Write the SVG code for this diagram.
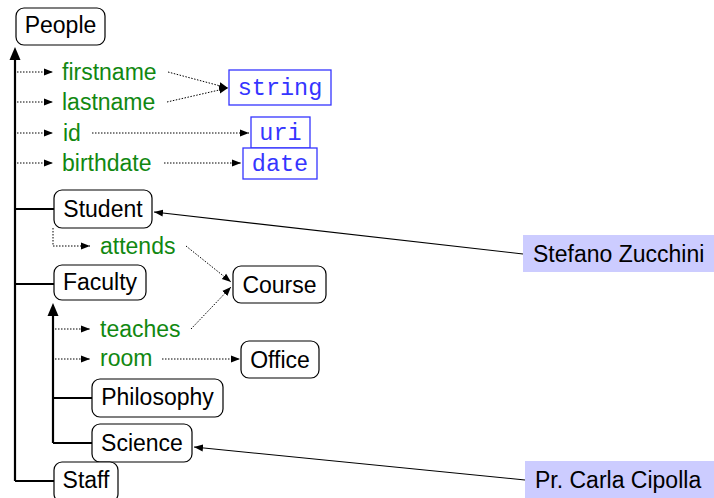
<svg xmlns="http://www.w3.org/2000/svg" width="714" height="498" viewBox="0 0 714 498">
<style>
.box{fill:#fff;stroke:#000;stroke-width:1.2}
.lbl{font-family:"Liberation Sans",Arial,sans-serif;font-size:23px;fill:#000}
.attr{font-family:"Liberation Sans",Arial,sans-serif;font-size:23px;fill:#118811}
.tbox{fill:#fff;stroke:#3535ff;stroke-width:1.3}
.mono{font-family:"Liberation Mono","Courier New",monospace;font-size:23.5px;fill:#3535ff}
.note{fill:#ccccff}
.tree{fill:none;stroke:#000;stroke-width:2.2}
.dot{fill:none;stroke:#000;stroke-width:1;stroke-dasharray:1.5 1.5}
.thin{fill:none;stroke:#000;stroke-width:1.1}
</style>
<defs>
<marker id="ad" markerUnits="userSpaceOnUse" markerWidth="10" markerHeight="8" refX="9" refY="4" orient="auto"><path d="M0,0.5 L9,4 L0,7.5 z" fill="#000"/></marker>
</defs>
<g id="connectors">
<path class="tree" d="M15,481 L15,58"/>
<path d="M15,47 L9.5,60 L20.5,60 z" fill="#000"/>
<path class="tree" d="M15,481 L54,481 M15,284 L54,284 M15,209 L54,209"/>
<path class="tree" d="M53,443 L53,314"/>
<path d="M53,303 L47.5,316 L58.5,316 z" fill="#000"/>
<path class="tree" d="M53,443 L92,443 M53,398 L92,398"/>
<path class="dot" d="M17,72 L53,72" marker-end="url(#ad)"/>
<path class="dot" d="M17,102 L53,102" marker-end="url(#ad)"/>
<path class="dot" d="M17,133 L53,133" marker-end="url(#ad)"/>
<path class="dot" d="M17,163 L53,163" marker-end="url(#ad)"/>
<path class="dot" d="M168,72 L228,88" marker-end="url(#ad)"/>
<path class="dot" d="M167,102 L228,88" marker-end="url(#ad)"/>
<path class="dot" d="M92,133 L249,133" marker-end="url(#ad)"/>
<path class="dot" d="M164,163 L241,163" marker-end="url(#ad)"/>
<path class="dot" d="M53,228 L53,246 L90,246" marker-end="url(#ad)"/>
<path class="dot" d="M186,246 L231,282" marker-end="url(#ad)"/>
<path class="dot" d="M55,329 L90,329" marker-end="url(#ad)"/>
<path class="dot" d="M191,329 L231,287" marker-end="url(#ad)"/>
<path class="dot" d="M55,359 L90,359" marker-end="url(#ad)"/>
<path class="dot" d="M162,359 L240,359" marker-end="url(#ad)"/>
<path class="thin" d="M523,254 L154,212" marker-end="url(#ad)"/>
<path class="thin" d="M525,480 L194,447" marker-end="url(#ad)"/>
</g>
<g id="people"><rect class="box" x="16" y="8" width="89" height="37" rx="8"/><text class="lbl" x="60.5" y="33" text-anchor="middle">People</text></g>
<g id="firstname"><text class="attr" x="62" y="80">firstname</text></g>
<g id="lastname"><text class="attr" x="62" y="110">lastname</text></g>
<g id="id"><text class="attr" x="63" y="141">id</text></g>
<g id="birthdate"><text class="attr" x="62" y="171">birthdate</text></g>
<g id="string"><rect class="tbox" x="229" y="70" width="102" height="35"/><text class="mono" x="280" y="95" text-anchor="middle">string</text></g>
<g id="uri"><rect class="tbox" x="251" y="117" width="59" height="31"/><text class="mono" x="280.5" y="140" text-anchor="middle">uri</text></g>
<g id="date"><rect class="tbox" x="243" y="148" width="74" height="31"/><text class="mono" x="280" y="171" text-anchor="middle">date</text></g>
<g id="student"><rect class="box" x="54" y="190" width="98" height="38" rx="8"/><text class="lbl" x="103" y="217" text-anchor="middle">Student</text></g>
<g id="attends"><text class="attr" x="100" y="254">attends</text></g>
<g id="faculty"><rect class="box" x="54" y="265" width="92" height="35" rx="8"/><text class="lbl" x="100" y="290" text-anchor="middle">Faculty</text></g>
<g id="course"><rect class="box" x="233" y="266" width="93" height="37" rx="8"/><text class="lbl" x="279.5" y="293" text-anchor="middle">Course</text></g>
<g id="teaches"><text class="attr" x="100" y="337">teaches</text></g>
<g id="room"><text class="attr" x="100" y="366">room</text></g>
<g id="office"><rect class="box" x="241" y="341" width="78" height="37" rx="8"/><text class="lbl" x="280" y="368" text-anchor="middle">Office</text></g>
<g id="philosophy"><rect class="box" x="92" y="379" width="131" height="38" rx="8"/><text class="lbl" x="157.5" y="405" text-anchor="middle">Philosophy</text></g>
<g id="science"><rect class="box" x="92" y="424" width="100" height="38" rx="8"/><text class="lbl" x="142" y="451" text-anchor="middle">Science</text></g>
<g id="staff"><rect class="box" x="54" y="462" width="64" height="40" rx="8"/><text class="lbl" x="86" y="488" text-anchor="middle">Staff</text></g>
<g id="stefano"><rect class="note" x="523" y="235" width="191" height="37"/><text class="lbl" x="533" y="262">Stefano Zucchini</text></g>
<g id="carla"><rect class="note" x="525" y="461" width="189" height="37"/><text class="lbl" x="535" y="488">Pr. Carla Cipolla</text></g>
</svg>
